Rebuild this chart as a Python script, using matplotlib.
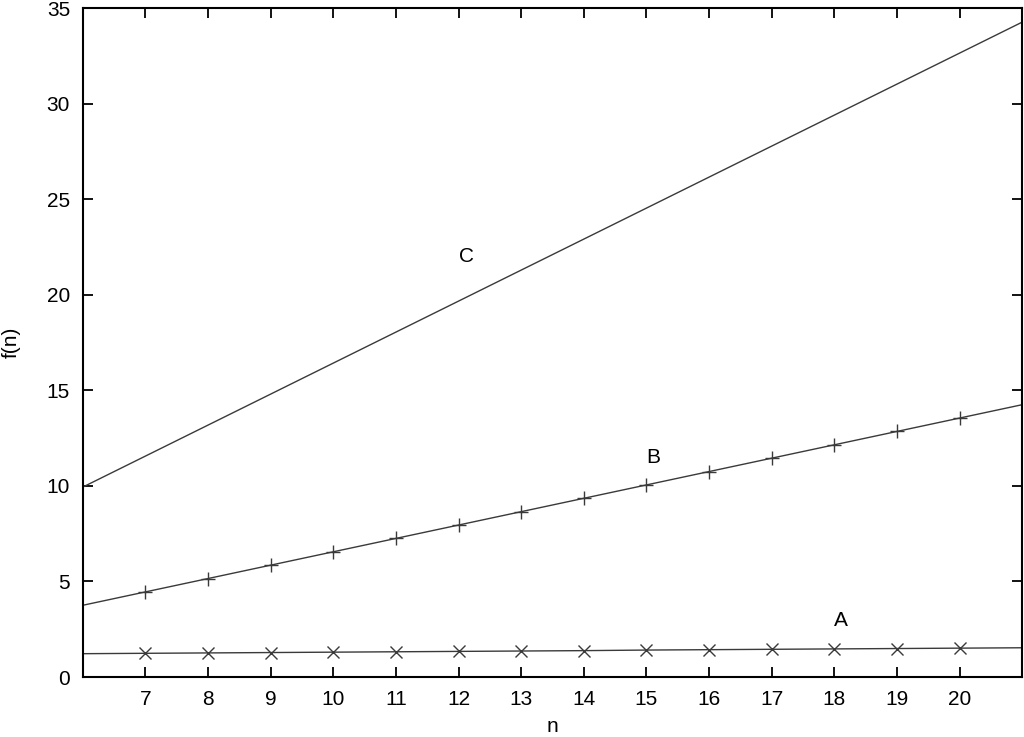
import matplotlib
matplotlib.use("Agg")
import matplotlib.pyplot as plt

plt.rcParams['font.family'] = ['Liberation Sans', 'DejaVu Sans']

# Line endpoints / sampled values
n_full = [6, 7, 8, 9, 10, 11, 12, 13, 14, 15, 16, 17, 18, 19, 20, 21]
A_vals = [1.22, 1.24, 1.26, 1.28, 1.30, 1.32, 1.34, 1.36, 1.38, 1.41, 1.43, 1.45, 1.47, 1.49, 1.51, 1.53]
B_vals = [3.75, 4.45, 5.15, 5.85, 6.55, 7.25, 7.95, 8.65, 9.35, 10.05, 10.75, 11.45, 12.15, 12.85, 13.55, 14.25]
C_n = [6, 21]
C_vals = [9.93, 34.27]

x_ticks = [7, 8, 9, 10, 11, 12, 13, 14, 15, 16, 17, 18, 19, 20]
y_ticks = [0, 5, 10, 15, 20, 25, 30, 35]

labels = [("A", 18.1, 2.98), ("B", 15.1, 11.5), ("C", 12.12, 22.0)]

fig = plt.figure(figsize=(10.24, 7.37), dpi=100)
ax = fig.add_axes([0.0806, 0.0814, 0.9179, 0.9077])

lc = '#3a3a3a'
ax.plot(C_n, C_vals, color=lc, lw=1.0)
ax.plot(n_full, B_vals, color=lc, lw=1.0, marker='+', markersize=10,
        markeredgewidth=1.0, markevery=list(range(1, 15)))
ax.plot(n_full, A_vals, color=lc, lw=1.0, marker='x', markersize=8,
        markeredgewidth=1.0, markevery=list(range(1, 15)))

for t, x, y in labels:
    ax.text(x, y, t, fontsize=15, ha='center', va='center', color='black')

ax.set_xlim(6, 21)
ax.set_ylim(0, 35)
ax.set_xticks(x_ticks)
ax.set_yticks(y_ticks)
ax.tick_params(direction='in', length=7, width=1.3, labelsize=15,
               top=True, right=True, pad=9)
for s in ax.spines.values():
    s.set_linewidth(1.5)
ax.set_xlabel('n', fontsize=15, labelpad=6)
ax.set_ylabel('f(n)', fontsize=15)
ax.yaxis.set_label_coords(-0.066, 0.5)

fig.savefig('out.png', dpi=100)
